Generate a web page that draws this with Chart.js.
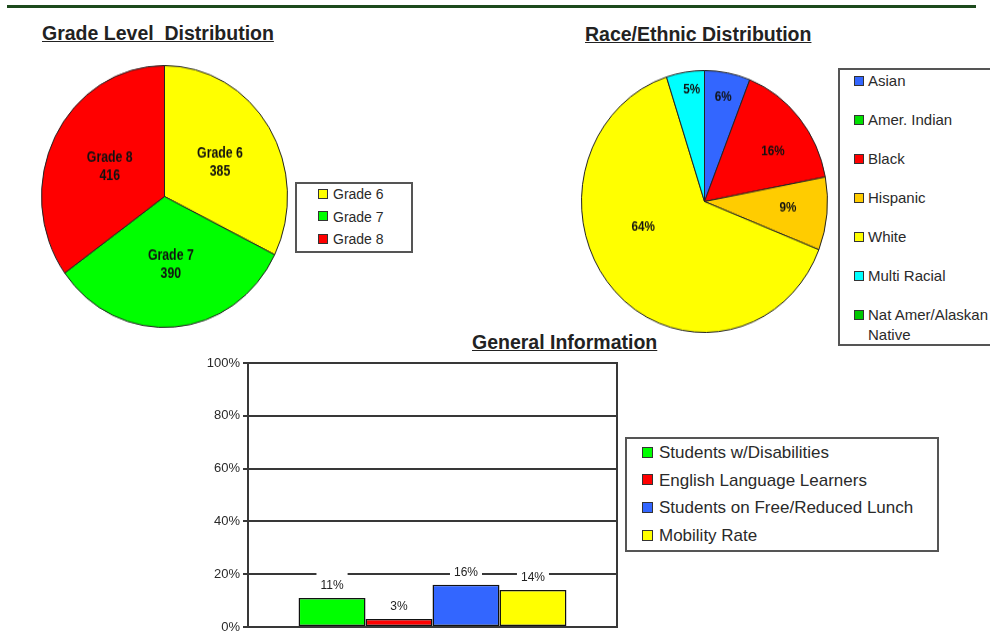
<!DOCTYPE html>
<html>
<head>
<meta charset="utf-8">
<script src="https://cdn.jsdelivr.net/npm/chart.js@4.4.1/dist/chart.umd.min.js"></script>
<style>
    body { margin: 0; width: 990px; height: 632px; overflow: hidden; position: relative; background: #fff; font-family: Arial, "Liberation Sans", sans-serif; color: #222; }
    .rule { position: absolute; left: 7px; top: 5px; width: 969px; height: 3px; background: #1d4a1d; }
    .title { position: absolute; font: bold 19.5px/19px Arial, "Liberation Sans", sans-serif; text-decoration: underline; white-space: pre; color: #222; }
    canvas { position: absolute; }
    .legend-box { position: absolute; border: 2px solid #555; box-sizing: border-box; background: #fff; }
    .legend-item { position: absolute; white-space: nowrap; color: #2a2a2a; }
    .legend-item .sw { display: inline-block; box-sizing: border-box; border: 1.5px solid #333; vertical-align: middle; }
</style>
</head>
<body>
<div class="rule"></div>

<div class="title" style="left:42px; top:24px;">Grade Level  Distribution</div>
<div class="title" style="left:585px; top:25px;">Race/Ethnic Distribution</div>
<div class="title" style="left:472px; top:333px;">General Information</div>

<canvas id="gradeChart" width="247" height="247" style="left:41px; top:65px;"></canvas>
<canvas id="raceChart" width="247" height="247" style="left:581px; top:70px;"></canvas>
<canvas id="infoChart" width="440" height="290" style="left:190px; top:350px;"></canvas>

<div class="legend-box" style="left:295px; top:182px; width:118px; height:71px;"></div>
<div class="legend-box" style="left:838px; top:68px; width:170px; height:278px;"></div>
<div class="legend-box" style="left:625px; top:437px; width:314px; height:115px;"></div>

<script>
// Daten: Klassenstufen
const gradeLabels = ['Grade 6', 'Grade 7', 'Grade 8'];
const gradeCounts = [385, 390, 416];
const gradeColors = ['#ffff00', '#00ff00', '#ff0000'];

// Daten: Herkunft (Prozent)
const raceLabels = ['Asian', 'Amer. Indian', 'Black', 'Hispanic', 'White', 'Multi Racial', 'Nat Amer/Alaskan Native'];
const racePercents = [6, 0, 16, 9, 64, 5, 0];
const raceColors = ['#3366ff', '#00e000', '#ff0000', '#ffcc00', '#ffff00', '#00ffff', '#00c800'];

// Daten: allgemeine Informationen
const infoLabels = ['Students w/Disabilities', 'English Language Learners', 'Students on Free/Reduced Lunch', 'Mobility Rate'];
const infoPercents = [11, 3, 16, 14];
const infoColors = ['#00ff00', '#ff0000', '#3366ff', '#ffff00'];
const infoTicks = [0, 20, 40, 60, 80, 100];

Chart.defaults.font.family = 'Arial, "Liberation Sans", sans-serif';

// Beschriftungen in den Tortenstuecken
const pieLabelPlugin = {
    id: 'pieLabels',
    afterDatasetsDraw(chart, args, opts) {
        const ctx = chart.ctx;
        const values = chart.data.datasets[0].data;
        ctx.save();
        ctx.font = opts.font;
        ctx.fillStyle = '#111';
        ctx.textAlign = 'center';
        ctx.textBaseline = 'middle';
        chart.getDatasetMeta(0).data.forEach((arc, i) => {
            if (!values[i]) return;
            const shift = (opts.shift ? opts.shift[i] : 0) * Math.PI / 180;
            const mid = (arc.startAngle + arc.endAngle) / 2 + shift;
            const r = arc.outerRadius * opts.radius[i];
            const x = arc.x + Math.cos(mid) * r;
            const y = arc.y + Math.sin(mid) * r;
            const lines = opts.text(chart.data.labels[i], values[i]);
            ctx.save();
            ctx.translate(x, y);
            ctx.scale(opts.condense, 1);
            lines.forEach((t, k) => ctx.fillText(t, 0, (k - (lines.length - 1) / 2) * opts.lineHeight));
            ctx.restore();
        });
        ctx.restore();
    }
};

// Werte ueber den Balken (mit weissem Hintergrund)
const barValuePlugin = {
    id: 'barValues',
    afterDatasetsDraw(chart, args, opts) {
        const ctx = chart.ctx;
        ctx.save();
        ctx.font = opts.font;
        ctx.textAlign = 'center';
        ctx.textBaseline = 'middle';
        chart.data.datasets.forEach((ds, i) => {
            const bar = chart.getDatasetMeta(i).data[0];
            const text = ds.data[0] + '%';
            const w = ctx.measureText(text).width + 8;
            const y = bar.y - 12;
            ctx.fillStyle = '#fff';
            ctx.fillRect(bar.x - w / 2, y - 14, w, 22);
            ctx.fillStyle = '#222';
            ctx.fillText(text, bar.x, y);
        });
        ctx.restore();
    }
};

// Rahmen um die Zeichenflaeche
const plotBorderPlugin = {
    id: 'plotBorder',
    beforeDatasetsDraw(chart) {
        const { ctx, chartArea: a } = chart;
        ctx.save();
        ctx.strokeStyle = '#383838';
        ctx.lineWidth = 2;
        ctx.strokeRect(a.left, a.top, a.right - a.left, a.bottom - a.top);
        ctx.restore();
    }
};

function stretchCanvas(id, height) {
    // Originalbild ist leicht vertikal gestreckt
    document.getElementById(id).style.height = height + 'px';
}

new Chart(document.getElementById('gradeChart'), {
    type: 'pie',
    data: {
        labels: gradeLabels,
        datasets: [{ data: gradeCounts, backgroundColor: gradeColors, borderColor: '#222', borderWidth: 1 }]
    },
    options: {
        responsive: false,
        animation: false,
        plugins: {
            legend: { display: false },
            tooltip: { enabled: false },
            pieLabels: {
                font: 'bold 14px Arial, sans-serif',
                condense: 0.88,
                lineHeight: 17,
                radius: [0.52, 0.52, 0.5],
                shift: [2, -1, 0],
                text: (label, v) => [label, String(v)]
            }
        }
    },
    plugins: [pieLabelPlugin]
});
stretchCanvas('gradeChart', 263);

new Chart(document.getElementById('raceChart'), {
    type: 'pie',
    data: {
        labels: raceLabels,
        datasets: [{ data: racePercents, backgroundColor: raceColors, borderColor: '#222', borderWidth: 1 }]
    },
    options: {
        responsive: false,
        animation: false,
        plugins: {
            legend: { display: false },
            tooltip: { enabled: false },
            pieLabels: {
                font: 'bold 13px Arial, sans-serif',
                condense: 0.9,
                lineHeight: 14,
                radius: [0.81, 0.6, 0.675, 0.68, 0.535, 0.86, 0.6],
                shift: [0, 0, 5, -1.6, 22, 2, 0],
                text: (label, v) => [v + '%']
            }
        }
    },
    plugins: [pieLabelPlugin]
});
stretchCanvas('raceChart', 263);

new Chart(document.getElementById('infoChart'), {
    type: 'bar',
    data: {
        labels: [''],
        datasets: infoLabels.map((label, i) => ({
            label: label,
            data: [infoPercents[i]],
            backgroundColor: infoColors[i],
            borderColor: '#111',
            borderWidth: 1.5,
            borderSkipped: false,
            categoryPercentage: 0.726,
            barPercentage: 1.0
        }))
    },
    options: {
        responsive: false,
        animation: false,
        layout: { padding: { top: 13, right: 13, bottom: 13, left: 0 } },
        plugins: {
            legend: { display: false },
            tooltip: { enabled: false },
            barValues: { font: '12px Arial, "Liberation Sans", sans-serif' }
        },
        scales: {
            x: { display: false },
            y: {
                min: infoTicks[0],
                max: infoTicks[infoTicks.length - 1],
                ticks: {
                    stepSize: infoTicks[1] - infoTicks[0],
                    callback: v => v + '%',
                    color: '#2a2a2a',
                    padding: 3,
                    font: { size: 13, lineHeight: 0.8 }
                },
                grid: { color: '#383838', lineWidth: 2, tickLength: 5 },
                border: { color: '#383838', width: 2 },
                afterFit(scale) { scale.width = 58; }
            }
        }
    },
    plugins: [plotBorderPlugin, barValuePlugin]
});

// HTML-Legenden
function buildLegend(labels, colors, cfg) {
    labels.forEach((label, i) => {
        const item = document.createElement('div');
        item.className = 'legend-item';
        item.style.left = cfg.left + 'px';
        item.style.top = (cfg.top + i * cfg.step) + 'px';
        item.style.font = cfg.font;
        if (cfg.wrap) {
            item.style.whiteSpace = 'normal';
            item.style.width = cfg.wrap + 'px';
            item.style.paddingLeft = (cfg.size + cfg.gap) + 'px';
            item.style.textIndent = -(cfg.size + cfg.gap) + 'px';
        }
        const sw = document.createElement('span');
        sw.className = 'sw';
        sw.style.width = cfg.size + 'px';
        sw.style.height = cfg.size + 'px';
        sw.style.marginRight = cfg.gap + 'px';
        sw.style.marginTop = '-3px';
        sw.style.background = colors[i];
        item.appendChild(sw);
        item.appendChild(document.createTextNode(label));
        document.body.appendChild(item);
    });
}

buildLegend(gradeLabels, gradeColors, { left: 318, top: 185, step: 22.5, font: '14px/18px Arial, sans-serif', size: 10, gap: 5 });
buildLegend(raceLabels, raceColors, { left: 854, top: 71, step: 39, font: '15px/20px Arial, sans-serif', size: 10, gap: 4, wrap: 150 });
buildLegend(infoLabels, infoColors, { left: 642, top: 442, step: 27.7, font: '17px/22px Arial, sans-serif', size: 11, gap: 6 });
</script>
</body>
</html>
